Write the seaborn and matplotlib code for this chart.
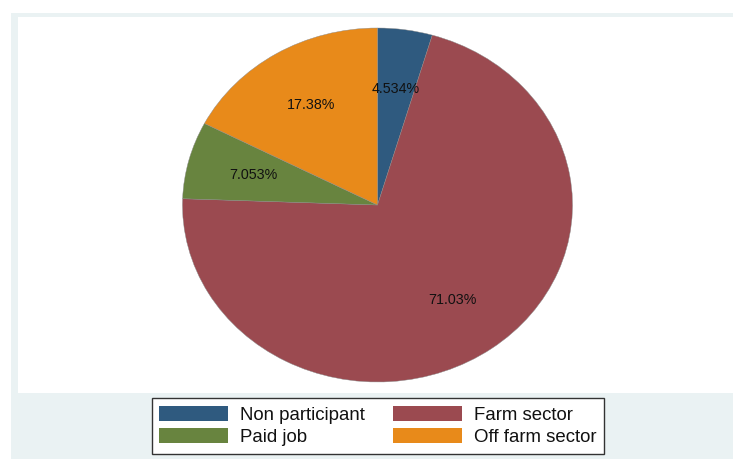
import matplotlib
matplotlib.use("Agg")
import matplotlib.pyplot as plt
import matplotlib.patches as mpatches
import seaborn as sns

categories = ["Non participant", "Farm sector", "Paid job", "Off farm sector"]
shares = [4.534, 71.03, 7.053, 17.38]
pct_labels = ["4.534%", "71.03%", "7.053%", "17.38%"]
colors = ["#2F5A7F", "#9B4A50", "#68843F", "#E88A1A"]

sns.set_theme(style="white")
plt.rcParams["font.family"] = ["Liberation Sans", "DejaVu Sans"]

W, H = 733, 459
fig = plt.figure(figsize=(W / 100, H / 100), dpi=100)
fig.patch.set_facecolor("white")

# graph region (light) and plot region (white)
bg = fig.add_axes([11 / W, 0, 1 - 11 / W, 1 - 13 / H])
bg.set_facecolor("#EAF2F3")
bg.set_xticks([]); bg.set_yticks([])
for s in bg.spines.values():
    s.set_visible(False)
pr = fig.add_axes([18 / W, 1 - 393 / H, 1 - 18 / W, (393 - 17) / H])
pr.set_facecolor("white")
pr.set_xticks([]); pr.set_yticks([])
for s in pr.spines.values():
    s.set_visible(False)

ax = fig.add_axes([18 / W, 1 - 393 / H, 1 - 18 / W, (393 - 17) / H])
ax.set_facecolor("none")
palette = sns.color_palette(colors)
wedges, texts, autotexts = ax.pie(shares, colors=palette, startangle=90, counterclock=False,
                                  labels=None, autopct=lambda p: "", pctdistance=0.66,
                                  wedgeprops=dict(linewidth=0.3, edgecolor="#888888"))
for t, lab in zip(autotexts, pct_labels):
    t.set_text(lab)
    t.set_fontsize(10.3)
    t.set_color("#111111")
ax.set_aspect("auto")
ax.set_xlim(-359.5 / 195, (715 - 359.5) / 195)
ax.set_ylim(-188 / 177, 188 / 177)
ax.axis("off")

handles = [mpatches.Patch(facecolor=c, edgecolor="none") for c in colors]
order = [0, 2, 1, 3]
leg = fig.legend([handles[i] for i in order], [categories[i] for i in order],
                 ncol=2, loc="center", bbox_to_anchor=(378 / W, 1 - 426 / H),
                 fontsize=13.4, frameon=True, fancybox=False, framealpha=1,
                 handlelength=3.7, handleheight=0.9, handletextpad=0.65,
                 columnspacing=1.5, borderpad=0.42, labelspacing=0.2)
leg.get_frame().set_edgecolor("#333333")
leg.get_frame().set_linewidth(1.0)
leg.get_frame().set_facecolor("white")
for t in leg.get_texts():
    t.set_color("#111111")

fig.savefig("out.png", dpi=100, facecolor=fig.get_facecolor())
